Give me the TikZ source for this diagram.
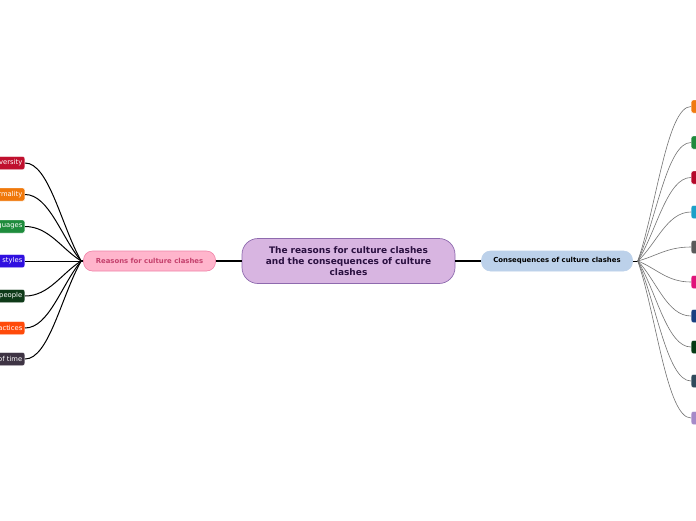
\documentclass[tikz,border=0pt]{standalone}
\usepackage{fontspec}
\setmainfont{DejaVu Sans}
\usetikzlibrary{calc}
\definecolor{cfill}{HTML}{D8B5E1}
\definecolor{cdraw}{HTML}{8E6AAE}
\definecolor{ctext}{HTML}{2A1040}
\definecolor{lfill}{HTML}{FFB5CC}
\definecolor{ldraw}{HTML}{F083A8}
\definecolor{ltext}{HTML}{C4406C}
\definecolor{rfill}{HTML}{BCD1EA}
\definecolor{cA}{HTML}{C0102E}
\definecolor{cB}{HTML}{F0780A}
\definecolor{cC}{HTML}{1E8C3C}
\definecolor{cD}{HTML}{3010E0}
\definecolor{cE}{HTML}{0E3A18}
\definecolor{cF}{HTML}{FF4A0A}
\definecolor{cG}{HTML}{3E3444}
\definecolor{rA}{HTML}{F07A10}
\definecolor{rB}{HTML}{1E8A3C}
\definecolor{rC}{HTML}{B5082A}
\definecolor{rD}{HTML}{1CA0C8}
\definecolor{rE}{HTML}{5A5A5A}
\definecolor{rF}{HTML}{E0127A}
\definecolor{rG}{HTML}{1A3F80}
\definecolor{rH}{HTML}{063A14}
\definecolor{rI}{HTML}{2F4A5C}
\definecolor{rJ}{HTML}{A58AC8}
\begin{document}
\begin{tikzpicture}[x=1pt,y=-1pt,
  centerbox/.style={rectangle, rounded corners=16pt, fill=cfill, draw=cdraw, line width=0.7pt,
    minimum width=213pt, minimum height=45pt, text width=200pt, align=center, inner sep=0pt,
    text=ctext, font=\fontsize{9}{11}\selectfont\bfseries},
  leftmain/.style={rectangle, rounded corners=9pt, fill=lfill, draw=ldraw, line width=0.6pt,
    minimum width=132pt, minimum height=20pt, inner sep=0pt, text=ltext,
    font=\fontsize{6.9}{8}\selectfont\bfseries},
  rightmain/.style={rectangle, rounded corners=9pt, fill=rfill, draw=rfill, line width=0.6pt,
    minimum width=151pt, minimum height=20pt, inner sep=0pt, text=black,
    font=\fontsize{6.9}{8}\selectfont\bfseries},
  leftleaf/.style={rectangle, rounded corners=2pt, fill=#1, draw=white, line width=0.4pt,
    anchor=east, minimum height=13pt, text width=60pt, align=right, inner xsep=2.5pt, inner ysep=0pt,
    text=white, font=\fontsize{6.8}{8}\selectfont},
  rightleaf/.style={rectangle, rounded corners=2pt, fill=#1, draw=white, line width=0.4pt,
    anchor=west, minimum height=13pt, minimum width=30pt, inner sep=0pt},
  trunk/.style={draw=black, line width=1.3pt},
  leftlink/.style={draw=black, line width=1pt},
  rightlink/.style={draw=black!55, line width=0.6pt}
]
\useasboundingbox (0,0) rectangle (696,520);
\clip (0,0) rectangle (696,520);
\fill[white] (0,0) rectangle (696,520);

\node[centerbox] (center) at (348.5,261) {The reasons for culture clashes\\and the consequences of culture\\clashes};
\node[leftmain] (reasons) at (149.5,261) {Reasons for culture clashes};
\node[rightmain] (conseq) at (557,261) {Consequences of culture clashes};

\draw[trunk] (reasons.east) -- (center.west);
\draw[trunk] (center.east) -- (conseq.west);

\coordinate (hubL) at ($(reasons.west)+(-2,0)$);
\coordinate (hubR) at ($(conseq.east)+(5,0)$);
\draw[trunk] (reasons.west) -- (hubL);
\draw[line width=1pt] (conseq.east) -- (hubR);

% left leaves
\node[leftleaf=cA] (l1) at (25,163) {versity};
\node[leftleaf=cB] (l2) at (25,194.5) {rmality};
\node[leftleaf=cC] (l3) at (25,226.5) {guages};
\node[leftleaf=cD] (l4) at (25,261) {e styles};
\node[leftleaf=cE] (l5) at (25,296) {people};
\node[leftleaf=cF] (l6) at (25,328) {actices};
\node[leftleaf=cG] (l7) at (25,359) {of time};

\foreach \n in {l1,l2,l3,l5,l6,l7}{
  \draw[leftlink] (hubL) .. controls ($(hubL)!0.35!(\n.east)$) and ($(\n.east)+(24,0)$) .. (\n.east);
}
\draw[leftlink] (hubL) -- (l4.east);

% right leaves
\node[rightleaf=rA] (r1) at (691,106.5) {};
\node[rightleaf=rB] (r2) at (691,142.5) {};
\node[rightleaf=rC] (r3) at (691,177.5) {};
\node[rightleaf=rD] (r4) at (691,212) {};
\node[rightleaf=rE] (r5) at (691,247) {};
\node[rightleaf=rF] (r6) at (691,282) {};
\node[rightleaf=rG] (r7) at (691,316) {};
\node[rightleaf=rH] (r8) at (691,347) {};
\node[rightleaf=rI] (r9) at (691,381) {};
\node[rightleaf=rJ] (r10) at (691,418) {};

\foreach \n in {r1,r2,r3,r4,r5,r6,r7,r8,r9,r10}{
  \draw[rightlink] (hubR) .. controls ($(hubR)!0.35!(\n.west)$) and ($(\n.west)+(-24,0)$) .. (\n.west);
}
\end{tikzpicture}
\end{document}
